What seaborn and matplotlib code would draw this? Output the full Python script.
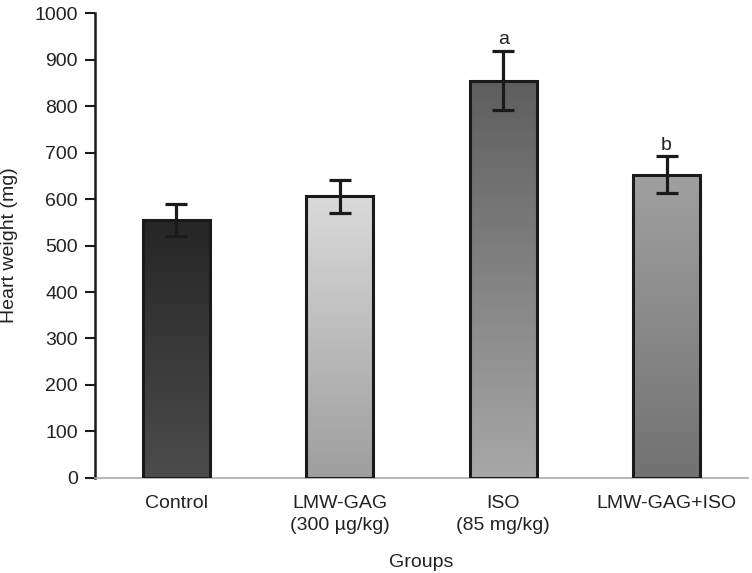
import matplotlib
matplotlib.use("Agg")
import matplotlib.pyplot as plt
import matplotlib.colors as mcolors
import numpy as np
import pandas as pd
import seaborn as sns

# Data
groups = ["Control", "LMW-GAG\n(300 µg/kg)", "ISO\n(85 mg/kg)", "LMW-GAG+ISO"]
heart_weight = [555, 606, 855, 652]
sem = [35, 36, 64, 40]
letters = ["", "", "a", "b"]

# top / bottom shades of each bar gradient
top_colors = ["#262626", "#dadada", "#5e5e5e", "#a0a0a0"]
bottom_colors = ["#4c4c4c", "#9e9e9e", "#a8a8a8", "#727272"]

df = pd.DataFrame({"group": groups, "weight": heart_weight})

sns.set_style("white")
plt.rcParams["font.family"] = ["Liberation Sans", "DejaVu Sans"]

fig = plt.figure(figsize=(7.52, 5.73), dpi=100)
ax = fig.add_axes([0.126, 0.166, 0.869, 0.811])

sns.barplot(data=df, x="group", y="weight", color="white", width=0.41,
            edgecolor="#1a1a1a", linewidth=2.2, errorbar=None, ax=ax)

# vertical gradient fill clipped to each bar
for patch, c_top, c_bot in zip(ax.patches, top_colors, bottom_colors):
    x0, y0 = patch.get_x(), patch.get_y()
    w, h = patch.get_width(), patch.get_height()
    cmap = mcolors.LinearSegmentedColormap.from_list("g", [c_bot, c_top])
    grad = np.linspace(0, 1, 256).reshape(-1, 1)
    im = ax.imshow(grad, cmap=cmap, aspect="auto", origin="lower",
                   extent=[x0, x0 + w, y0, y0 + h], zorder=patch.get_zorder() - 0.1)
    im.set_clip_path(patch)
    patch.set_facecolor("none")
    patch.set_zorder(3)

ax.errorbar(np.arange(len(groups)), heart_weight, yerr=sem, fmt="none",
            ecolor="#1a1a1a", elinewidth=2.3, capsize=8, capthick=2.3, zorder=4)

for i, (v, e, t) in enumerate(zip(heart_weight, sem, letters)):
    if t:
        ax.text(i, v + e + 6, t, ha="center", va="bottom", fontsize=14, color="#222222")

ax.set_xlim(-0.5, 3.5)
ax.set_ylim(0, 1000)
ax.set_yticks(range(0, 1001, 100))
ax.set_xticks(range(len(groups)))
ax.set_xticklabels(groups, fontsize=14, color="#222222", linespacing=1.45)
ax.set_xticks([0.5, 1.5, 2.5, 3.5], minor=True)
ax.tick_params(axis="x", which="major", length=0, pad=12)
ax.tick_params(axis="x", which="minor", length=6, width=1.5, color="#1a1a1a", direction="out")
ax.tick_params(axis="y", length=7, width=1.5, color="#1a1a1a", direction="out",
               labelsize=14, labelcolor="#222222", left=True, pad=5)

ax.set_xlabel("Groups", fontsize=14, color="#222222", labelpad=14)
ax.set_ylabel("Heart weight (mg)", fontsize=14, color="#222222", labelpad=12)

for side in ["top", "right"]:
    ax.spines[side].set_visible(False)
ax.spines["left"].set_color("#1a1a1a")
ax.spines["left"].set_linewidth(1.8)
ax.spines["bottom"].set_color("#aaaaaa")
ax.spines["bottom"].set_linewidth(1.2)

fig.savefig("out.png", dpi=100)
